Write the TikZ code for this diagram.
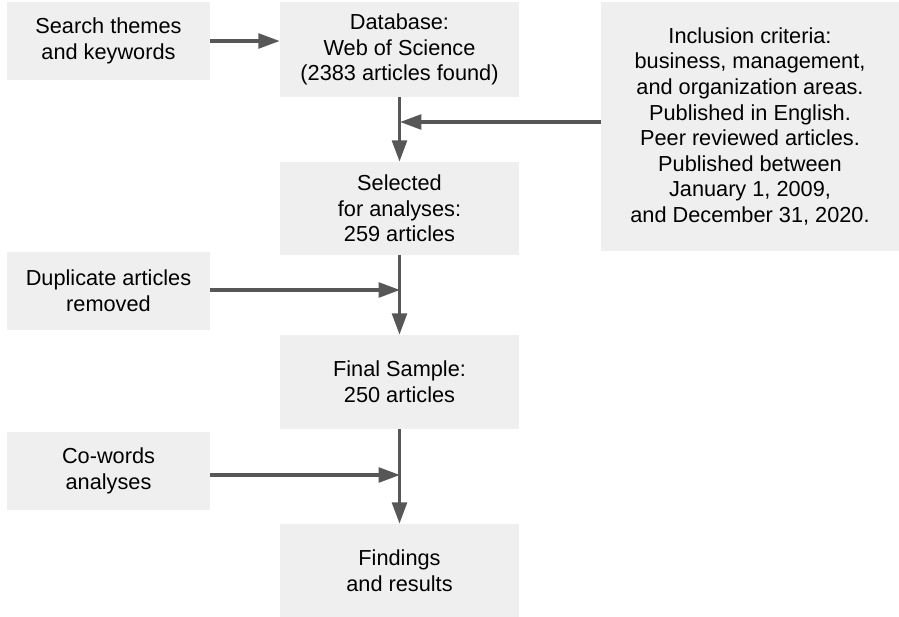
\documentclass[tikz,border=0pt]{standalone}
\usepackage{fontspec}
\setmainfont{Liberation Sans}
\usepackage{tikz}
\usetikzlibrary{arrows.meta}
\usepackage{xcolor}
\definecolor{boxgray}{HTML}{EFEFEF}
\definecolor{arrowgray}{HTML}{575757}
\tikzset{>={Triangle[length=16pt,width=11pt]}}
\tikzset{%
    box/.style={%
        fill=boxgray, draw=none, align=center, inner sep=0pt,
        font=\fontsize{16.3pt}{19.2pt}\selectfont
    },
    smallbox/.style={box, minimum width=152.25pt, minimum height=58.5pt},
    midbox/.style={box, minimum width=179.25pt},
    flow/.style={->, draw=arrowgray, line width=2.6pt}
}

\begin{document}
\begin{tikzpicture}[x=0.75pt,y=-0.75pt]
\useasboundingbox (0,0) rectangle (899,617);
	\node[smallbox] (search) at (108.5,41)  {Search themes\\and keywords};
	\node[smallbox] (dup)    at (108.5,291) {Duplicate articles\\removed};
	\node[smallbox] (cow)    at (108.5,471) {Co-words\\analyses};
	\node[midbox, minimum height=71.25pt] (db)    at (399.5,49.5) {Database:\\Web of Science\\(2383 articles found)};
	\node[midbox, minimum height=69.75pt] (sel)   at (399.5,208.5) {Selected\\for analyses:\\259 articles};
	\node[midbox, minimum height=70.5pt]  (final) at (399.5,382) {Final Sample:\\250 articles};
	\node[midbox, minimum height=69.75pt] (find)  at (399.5,570.5) {Findings\\and results};
	\node[box, minimum width=223.5pt, minimum height=186.75pt] (incl) at (750,126.5)
	    {Inclusion criteria:\\business, management,\\and organization areas.\\Published in English.\\Peer reviewed articles.\\Published between\\January 1, 2009,\\and December 31, 2020.};
%junctions on the main line
\coordinate (j1) at (400,122);
\coordinate (j2) at (400,290);
\coordinate (j3) at (400,475);
	\draw[flow] (search.east) -- (search.east -| db.west);
	\draw[flow] (db) -- (sel);
	\draw[flow] (sel) -- (final);
	\draw[flow] (final) -- (find);
	\draw[flow] (incl.west |- j1) -- (j1);
	\draw[flow] (dup.east |- j2) -- (j2);
	\draw[flow] (cow.east |- j3) -- (j3);
\end{tikzpicture}
\end{document}
